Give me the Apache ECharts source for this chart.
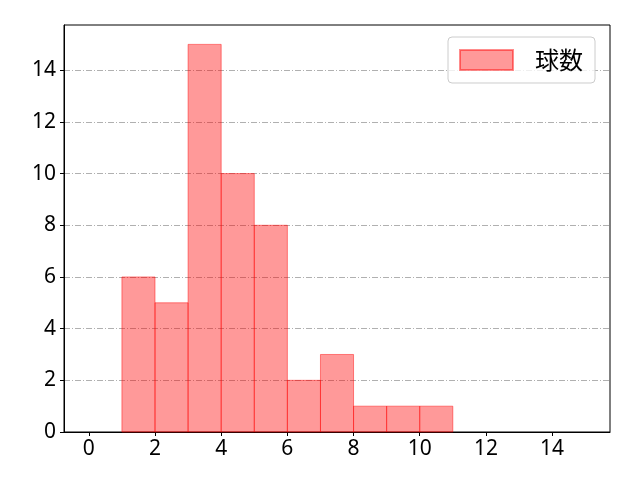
<!DOCTYPE html>
<html><head><meta charset="utf-8">
<script src="https://cdn.jsdelivr.net/npm/echarts@6/dist/echarts.min.js"></script>
<style>html,body{margin:0;padding:0;background:#fff}#c{width:640px;height:480px}</style>
</head><body><div id="c"></div>
<script>
const binStarts = [1, 2, 3, 4, 5, 6, 7, 8, 9, 10];
const binEnds   = [2, 3, 4, 5, 6, 7, 8, 9, 10, 11];
const counts    = [6, 5, 15, 10, 8, 2, 3, 1, 1, 1];
const xTicks = [0, 2, 4, 6, 8, 10, 12, 14];
const yTicks = [0, 2, 4, 6, 8, 10, 12, 14];
const seriesName = '球数';

const data = binStarts.map((s, i) => [s, binEnds[i], counts[i]]);
const numFont = '"Noto Sans", "DejaVu Sans", sans-serif';
const cjkFont = '"Noto Sans CJK JP", "Noto Sans", sans-serif';
const chart = echarts.init(document.getElementById('c'), null, {renderer: 'canvas'});
chart.setOption({
  animation: false,
  backgroundColor: '#fff',
  grid: {left: 64, right: 30, top: 25, bottom: 48, show: true, borderColor: '#000', borderWidth: 1, backgroundColor: 'transparent'},
  legend: {
    data: [{name: seriesName, icon: 'rect'}],
    right: 45, top: 37,
    itemWidth: 53, itemHeight: 20,
    padding: [11, 12, 11, 11],
    borderColor: '#cccccc', borderWidth: 1, borderRadius: 4,
    backgroundColor: 'rgba(255,255,255,0.8)',
    textStyle: {fontFamily: cjkFont, fontSize: 24, color: '#000', padding: [0, 0, 0, 17]}
  },
  xAxis: {
    type: 'value', min: -0.75, max: 15.75,
    axisLine: {show: true, onZero: false, lineStyle: {color: '#000', width: 1}},
    axisTick: {show: true, length: 4, lineStyle: {color: '#000'}, customValues: xTicks},
    axisLabel: {fontFamily: numFont, fontSize: 21, color: '#000', margin: 7, customValues: xTicks},
    splitLine: {show: false}
  },
  yAxis: {
    type: 'value', min: 0, max: 15.75, interval: 2,
    axisLine: {show: true, onZero: false, lineStyle: {color: '#000', width: 1}},
    axisTick: {show: true, length: 4, lineStyle: {color: '#000'}, customValues: yTicks},
    axisLabel: {fontFamily: numFont, fontSize: 21, color: '#000', margin: 8, customValues: yTicks},
    splitLine: {show: true, lineStyle: {color: '#b0b0b0', width: 1, type: [6, 2, 1, 2]}}
  },
  series: [{
    name: seriesName,
    type: 'custom',
    data: data,
    encode: {x: [0, 1], y: 2},
    itemStyle: {color: 'rgba(255,0,0,0.4)', borderColor: 'rgba(255,0,0,0.45)', borderWidth: 1},
    renderItem: function (params, api) {
      const p0 = api.coord([api.value(0), 0]);
      const p1 = api.coord([api.value(1), api.value(2)]);
      return {
        type: 'rect',
        shape: {x: p0[0], y: p1[1], width: p1[0] - p0[0], height: p0[1] - p1[1]},
        style: {fill: 'rgba(255,0,0,0.4)', stroke: 'rgba(255,0,0,0.45)', lineWidth: 1}
      };
    }
  }]
});
</script></body></html>
